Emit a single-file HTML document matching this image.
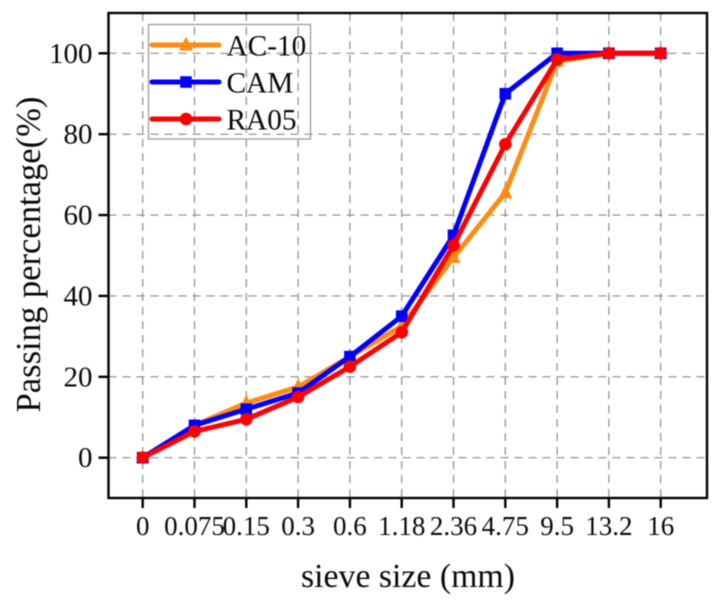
<!DOCTYPE html>
<html lang="en">
<head>
<meta charset="utf-8">
<title>Passing percentage by sieve size</title>
<style>
html,body{margin:0;padding:0;background:#fff;width:721px;height:603px;overflow:hidden}
svg{display:block;filter:blur(.5px)}
text{font-family:"Liberation Serif",serif;fill:#0a0a0a}
</style>
</head>
<body>
<svg id="chart" xmlns="http://www.w3.org/2000/svg" width="721" height="603" viewBox="0 0 721 603"></svg>
<script>
const categories = ['0','0.075','0.15','0.3','0.6','1.18','2.36','4.75','9.5','13.2','16'];
const yTickValues = [0,20,40,60,80,100];
const seriesNames = ['AC-10','CAM','RA05'];
const seriesColors = ['#ff8c14','#0000ff','#ff0000'];
const ac10Values = [0,8,13.5,17.5,25,32.5,49.5,65.5,98,100,100];
const camValues = [0,8,12,16,25,35,55,90,100,100,100];
const ra05Values = [0,6.5,9.5,15,22.5,31,52.5,77.5,98.5,100,100];
const seriesValues = [ac10Values,camValues,ra05Values];

const NS = 'http://www.w3.org/2000/svg';
const svg = document.getElementById('chart');
const frame = {left:108.5,right:707,top:13,bottom:498};
function xScale(i){ return 142.7 + i * (660.7 - 142.7) / (categories.length - 1); }
function yScale(v){ return 457.7 - v * (457.7 - 53.3) / 100; }
function make(tag, attrs, parent){
  const el = document.createElementNS(NS, tag);
  for (const k in attrs) el.setAttribute(k, attrs[k]);
  (parent || svg).appendChild(el);
  return el;
}
function marker(kind, cx, cy, color, parent){
  let el;
  if (kind === 0) {
    el = make('polygon', {points:(cx-7)+','+(cy+5.5)+' '+(cx+7)+','+(cy+5.5)+' '+cx+','+(cy-8.5), fill:color}, parent);
  } else if (kind === 1) {
    el = make('rect', {x:cx-5.8, y:cy-5.8, width:11.6, height:11.6, fill:color}, parent);
  } else {
    el = make('circle', {cx:cx, cy:cy, r:6.3, fill:color}, parent);
  }
  return el;
}

// grid
categories.forEach(function(c,i){
  const g = make('line', {x1:xScale(i), x2:xScale(i), y1:frame.top, y2:frame.bottom, stroke:'#8a8a8a', 'stroke-width':1.2, 'stroke-dasharray':'8 6'});
  
  
});
yTickValues.forEach(function(v){
  const g = make('line', {x1:frame.left, x2:frame.right, y1:yScale(v), y2:yScale(v), stroke:'#8a8a8a', 'stroke-width':1.2, 'stroke-dasharray':'8 6'});
  
  
});

// series
seriesValues.forEach(function(values,s){
  const group = make('g', {});
  
  
  const pts = values.map(function(v,i){ return xScale(i) + ',' + yScale(v); }).join(' ');
  const line = make('polyline', {points:pts, fill:'none', stroke:seriesColors[s], 'stroke-width':5, 'stroke-linejoin':'round'}, group);
  
  
  values.forEach(function(v,i){
    const m = marker(s, xScale(i), yScale(v), seriesColors[s], group);
    
    
  });
});

// frame
const box = make('rect', {x:frame.left, y:frame.top, width:frame.right-frame.left, height:frame.bottom-frame.top, fill:'none', stroke:'#000', 'stroke-width':2.4});



// x ticks
categories.forEach(function(c,i){
  const t = make('line', {x1:xScale(i), x2:xScale(i), y1:frame.bottom, y2:frame.bottom+10, stroke:'#000', 'stroke-width':2.4});
  
  
  const l = make('text', {x:xScale(i), y:535, 'font-size':27, 'text-anchor':'middle'});
  l.textContent = c;
  
  
});

// y ticks
yTickValues.forEach(function(v){
  const t = make('line', {x1:frame.left-10, x2:frame.left, y1:yScale(v), y2:yScale(v), stroke:'#000', 'stroke-width':2.4});
  
  
  const l = make('text', {x:frame.left-16, y:yScale(v)+9.5, 'font-size':29, 'text-anchor':'end'});
  l.textContent = v;
  
  
});

// axis titles
const xt = make('text', {x:408, y:587, 'font-size':33.8, 'text-anchor':'middle'});
xt.textContent = 'sieve size (mm)';


const yt = make('text', {x:0, y:0, 'font-size':34.6, 'text-anchor':'middle', transform:'translate(40,254.5) rotate(-90)'});
yt.textContent = 'Passing percentage(%)';



// legend
const legend = make('g', {});


const legendBox = make('rect', {x:148.5, y:24.5, width:162, height:114.5, fill:'none', stroke:'#9a9a9a', 'stroke-width':1.3}, legend);


seriesNames.forEach(function(name,s){
  const y = 45 + s * 37;
  const row = make('g', {}, legend);
  
  
  make('line', {x1:152, x2:219, y1:y, y2:y, stroke:seriesColors[s], 'stroke-width':5, 'stroke-linecap':'round'}, row);
  marker(s, 186, y, seriesColors[s], row);
  const t = make('text', {x:226.5, y:y+10.5, 'font-size':29.3}, row);
  t.textContent = name;
});
</script>
</body>
</html>
